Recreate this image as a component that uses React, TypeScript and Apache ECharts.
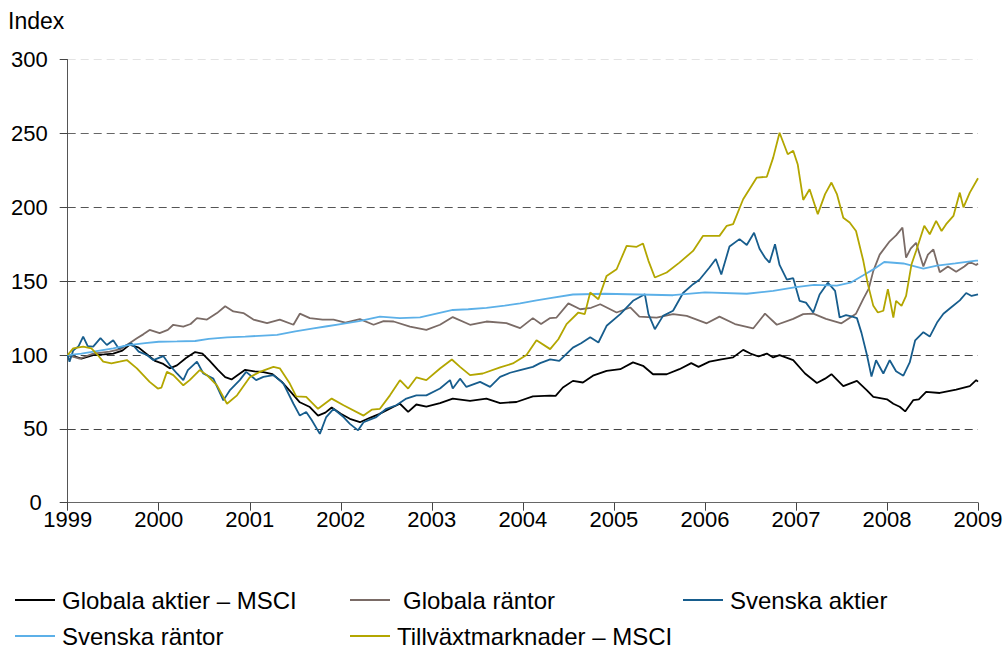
import React, { useEffect, useRef } from "react";
import * as echarts from "echarts";

const yearTicks = [1999, 2000, 2001, 2002, 2003, 2004, 2005, 2006, 2007, 2008, 2009];
const yTicks = [0, 50, 100, 150, 200, 250, 300];

const seriesNames = [
  "Globala aktier – MSCI",
  "Globala räntor",
  "Svenska aktier",
  "Svenska räntor",
  "Tillväxtmarknader – MSCI",
];

const globalaAktier: [number, number][] = [
  [1999.0,100],[1999.08,99],[1999.15,97.5],[1999.28,100],[1999.4,100.5],[1999.5,101],[1999.6,103],[1999.68,107],[1999.78,105],[1999.88,100],[1999.96,96],[2000.05,94],[2000.12,91],[2000.2,93],[2000.3,98],[2000.4,102],[2000.48,101],[2000.56,96],[2000.65,90],[2000.73,85],[2000.8,83.5],[2000.88,87],[2000.95,90],[2001.05,89],[2001.15,88.5],[2001.25,87],[2001.35,82],[2001.45,75],[2001.55,68],[2001.66,64.8],[2001.75,59],[2001.83,61],[2001.9,64.5],[2002.0,60.2],[2002.1,56.8],[2002.21,54.5],[2002.32,57.5],[2002.42,60],[2002.5,62.5],[2002.58,65],[2002.65,67],[2002.74,61.5],[2002.83,66.5],[2002.94,65],[2003.09,67.5],[2003.23,70.5],[2003.42,69],[2003.6,70.5],[2003.75,67.5],[2003.93,68.2],[2004.11,72],[2004.3,72.5],[2004.36,72.3],[2004.44,78],[2004.55,82.5],[2004.66,81.4],[2004.77,86],[2004.92,89.3],[2005.07,90.4],[2005.21,95],[2005.32,92.7],[2005.43,87],[2005.58,87],[2005.72,90.4],[2005.85,94.5],[2005.93,92],[2006.05,95.5],[2006.18,97],[2006.31,98.4],[2006.42,103.5],[2006.5,101],[2006.59,99],[2006.68,101],[2006.75,98.4],[2006.82,100],[2006.97,96.6],[2007.1,87.5],[2007.23,81.1],[2007.32,84],[2007.39,87],[2007.52,79],[2007.67,82.5],[2007.78,76],[2007.85,71.6],[2008.0,70],[2008.07,67],[2008.14,65],[2008.2,61.8],[2008.29,69.5],[2008.35,70],[2008.43,75],[2008.58,74.3],[2008.76,76.6],[2008.91,79],[2008.98,83],[2009.0,82],
];

const globalaRantor: [number, number][] = [
  [1999.0,100],[1999.13,97.5],[1999.28,101],[1999.46,102.3],[1999.58,104],[1999.65,106.8],[1999.76,111.4],[1999.83,114],[1999.9,117],[2000.01,114.8],[2000.1,117],[2000.16,120.5],[2000.27,119.3],[2000.35,121],[2000.42,125],[2000.53,124],[2000.64,128.4],[2000.73,133],[2000.82,129.5],[2000.93,128.4],[2001.04,124],[2001.19,121.6],[2001.33,124],[2001.48,120.5],[2001.55,128],[2001.66,125],[2001.8,124],[2001.92,124],[2002.05,122],[2002.21,124.3],[2002.36,120.5],[2002.47,123],[2002.58,122.7],[2002.76,119.3],[2002.94,117],[2003.09,120.5],[2003.23,125.7],[2003.42,120.5],[2003.6,122.7],[2003.82,121.6],[2003.97,118.2],[2004.11,125],[2004.2,121],[2004.3,125],[2004.37,125.4],[2004.5,135],[2004.63,131],[2004.75,132],[2004.85,134.4],[2005.03,128.8],[2005.18,132.2],[2005.28,126],[2005.47,125.4],[2005.65,127.7],[2005.8,126.5],[2006.02,121.5],[2006.16,126],[2006.33,121],[2006.53,118],[2006.66,128],[2006.79,120.5],[2006.97,124.5],[2007.08,127.7],[2007.19,128],[2007.33,124.5],[2007.5,121.5],[2007.66,128],[2007.74,138],[2007.8,145],[2007.85,157],[2007.92,168],[2008.03,177],[2008.1,181],[2008.17,186.3],[2008.21,166],[2008.26,172],[2008.32,176],[2008.4,160],[2008.45,168],[2008.51,171.5],[2008.58,156],[2008.67,160],[2008.76,156.4],[2008.85,160],[2008.91,163],[2008.98,161],[2009.0,162],
];

const svenskaAktier: [number, number][] = [
  [1999.0,100],[1999.02,95.5],[1999.06,103],[1999.12,106],[1999.17,112.5],[1999.22,106],[1999.28,105.7],[1999.36,111.4],[1999.43,106.8],[1999.5,110],[1999.56,104.5],[1999.65,106.8],[1999.7,108],[1999.78,102.3],[1999.87,100],[1999.94,96.6],[2000.05,99.3],[2000.12,93.2],[2000.2,87.5],[2000.27,83],[2000.32,89.8],[2000.42,95.5],[2000.49,87.5],[2000.6,84],[2000.71,69.3],[2000.78,76],[2000.89,83],[2000.96,88.6],[2001.07,83],[2001.15,85.2],[2001.26,86.4],[2001.37,80.7],[2001.48,67],[2001.55,59],[2001.62,61.4],[2001.68,56],[2001.77,46.6],[2001.84,58],[2001.92,63.6],[2002.03,58],[2002.1,53.4],[2002.19,49],[2002.25,54.5],[2002.39,58],[2002.5,63.6],[2002.61,66],[2002.72,70.5],[2002.83,72.7],[2002.94,72.7],[2003.09,77.3],[2003.2,83],[2003.23,77.3],[2003.31,84],[2003.38,78.4],[2003.53,81.8],[2003.64,78.4],[2003.75,85.2],[2003.86,88],[2003.97,89.8],[2004.11,92],[2004.19,94.5],[2004.3,97],[2004.4,96],[2004.55,105],[2004.64,108],[2004.74,112],[2004.83,108.5],[2004.92,119.8],[2005.07,127.7],[2005.21,136.7],[2005.34,141.2],[2005.38,127.7],[2005.45,117.5],[2005.54,126.5],[2005.65,130],[2005.76,142],[2005.87,148],[2005.94,151],[2006.05,159.3],[2006.12,165],[2006.18,154.5],[2006.27,173.5],[2006.38,178.5],[2006.46,174.5],[2006.54,182.8],[2006.6,172],[2006.66,166],[2006.71,162.6],[2006.77,175],[2006.82,161],[2006.9,151],[2006.97,152],[2007.04,136.7],[2007.11,135.5],[2007.19,128.8],[2007.26,141],[2007.35,149],[2007.43,143.5],[2007.48,125.4],[2007.55,127],[2007.62,126],[2007.67,125],[2007.72,115],[2007.78,100],[2007.83,85.5],[2007.88,96.5],[2007.96,87.5],[2008.03,96.5],[2008.1,89],[2008.18,86],[2008.25,95],[2008.31,110],[2008.4,115.5],[2008.47,112.5],[2008.55,122],[2008.62,128],[2008.7,132],[2008.8,137],[2008.87,142],[2008.93,140],[2009.0,141],
];

const svenskaRantor: [number, number][] = [
  [1999.0,100],[1999.15,101],[1999.3,102.5],[1999.5,104.5],[1999.65,106.5],[1999.85,108],[2000.0,109],[2000.2,109.2],[2000.4,109.5],[2000.55,111],[2000.75,112],[2000.95,112.5],[2001.1,113],[2001.3,113.6],[2001.5,116],[2001.7,118],[2001.85,119.5],[2002.0,121],[2002.2,123],[2002.43,126],[2002.65,125],[2002.87,125.5],[2003.05,128],[2003.23,130.5],[2003.4,131],[2003.6,132],[2003.8,133.5],[2003.97,135],[2004.15,137],[2004.3,138.5],[2004.55,141],[2004.9,141.5],[2005.28,141],[2005.65,140.5],[2006.0,142.5],[2006.46,141.5],[2006.75,143.5],[2007.0,146],[2007.2,147.5],[2007.45,147],[2007.6,149],[2007.74,154],[2007.85,158],[2007.97,163],[2008.18,162],[2008.4,158.5],[2008.55,160.5],[2008.75,162],[2008.98,164],[2009.0,164],
];

const tillvaxt: [number, number][] = [
  [1999.0,100],[1999.06,104.5],[1999.17,105.7],[1999.26,104.5],[1999.33,100],[1999.39,95.5],[1999.48,94.3],[1999.57,95.5],[1999.65,96.6],[1999.76,91],[1999.9,81.8],[1999.99,77.3],[2000.03,78],[2000.09,88.6],[2000.16,86.4],[2000.27,79.5],[2000.34,83],[2000.45,89.8],[2000.53,86.4],[2000.64,79.5],[2000.75,67],[2000.86,72.7],[2001.0,85],[2001.11,88.6],[2001.26,92],[2001.33,91],[2001.44,80.7],[2001.51,72],[2001.62,71.6],[2001.75,63.6],[2001.9,70.5],[2002.03,66],[2002.25,59],[2002.34,63],[2002.43,63.6],[2002.54,72.7],[2002.65,83],[2002.74,77.3],[2002.83,84.8],[2002.94,83],[2003.09,90.9],[2003.22,97],[2003.31,92],[2003.42,86.4],[2003.56,87.5],[2003.75,91.6],[2003.89,94.3],[2004.04,100],[2004.15,110],[2004.3,104],[2004.39,110.7],[2004.48,120.9],[2004.61,128.8],[2004.68,127.7],[2004.74,142.3],[2004.83,137.8],[2004.92,153.6],[2005.03,158.1],[2005.14,173.9],[2005.25,173.3],[2005.32,175.5],[2005.38,163.8],[2005.45,152.5],[2005.58,155.9],[2005.72,162.6],[2005.87,170.5],[2005.98,180.7],[2006.16,180.7],[2006.24,187.5],[2006.31,188.6],[2006.42,205.5],[2006.57,220.2],[2006.68,220.7],[2006.75,233.7],[2006.82,250.5],[2006.91,236],[2006.97,238.3],[2007.02,229],[2007.08,205],[2007.15,212.3],[2007.24,195.4],[2007.32,209],[2007.39,216.8],[2007.45,209],[2007.52,193],[2007.59,189.7],[2007.66,184],[2007.74,163.8],[2007.79,148],[2007.85,133.3],[2007.9,128.8],[2007.96,130],[2008.01,144.6],[2008.07,125.4],[2008.1,136.7],[2008.16,133.3],[2008.21,140],[2008.27,161.5],[2008.32,170.5],[2008.41,187.5],[2008.47,181.8],[2008.54,190.9],[2008.6,184],[2008.65,188.6],[2008.73,194.2],[2008.8,210],[2008.84,200],[2008.91,210],[2009.0,219.7],
];

const seriesData = [globalaAktier, globalaRantor, svenskaAktier, svenskaRantor, tillvaxt];
const seriesColors = ["#000000", "#7a6b66", "#175d8d", "#5cb0e8", "#b3a600"];

const FONT = "'Liberation Sans', Arial, sans-serif";
const FS = 22;
const LEGEND_FS = 24;

export default function App() {
  const ref = useRef<HTMLDivElement>(null);
  useEffect(() => {
    if (!ref.current) return;
    const chart = echarts.init(ref.current, undefined, { renderer: "svg" });
    const legendPos = [
      { left: 15, top: 588 },
      { left: 350, top: 588 },
      { left: 683, top: 588 },
      { left: 15, top: 624 },
      { left: 350, top: 624 },
    ];
    chart.setOption({
      animation: false,
      backgroundColor: "#ffffff",
      textStyle: { fontFamily: FONT },
      grid: { left: 67.7, right: 28, top: 59.7, bottom: 147.3, containLabel: false },
      graphic: [
        {
          type: "text",
          left: 8,
          top: 9,
          style: { text: "Index", fontSize: 23, fontFamily: FONT, fill: "#000" },
        },
      ],
      legend: seriesNames.map((n, i) => ({
        data: [n],
        left: legendPos[i].left,
        top: legendPos[i].top,
        padding: 0,
        icon: "rect",
        itemWidth: 40,
        itemHeight: 2,
        itemGap: 0,
        selectedMode: false,
        textStyle: {
          fontSize: LEGEND_FS,
          fontFamily: FONT,
          color: "#000",
          padding: [0, 0, 0, i === 1 ? 8 : 2],
        },
      })),
      xAxis: {
        type: "value",
        min: yearTicks[0],
        max: yearTicks[yearTicks.length - 1],
        interval: 1,
        axisLine: { show: true, lineStyle: { color: "#666", width: 1 } },
        axisTick: { show: true, length: 8, lineStyle: { color: "#444" } },
        axisLabel: {
          fontSize: FS,
          fontFamily: FONT,
          color: "#000",
          margin: 9,
          lineHeight: 16,
          formatter: (v: number) => String(Math.round(v)),
        },
        splitLine: { show: false },
      },
      yAxis: {
        type: "value",
        min: yTicks[0],
        max: yTicks[yTicks.length - 1],
        interval: 50,
        axisLine: { show: true, lineStyle: { color: "#555", width: 1 } },
        axisTick: { show: true, length: 8, lineStyle: { color: "#444" } },
        axisLabel: {
          fontSize: FS,
          fontFamily: FONT,
          color: "#000",
          margin: 20,
          lineHeight: 16,
          formatter: (v: number) => (v === 0 ? "{z|0}" : String(v)),
          rich: {
            z: { fontSize: FS, fontFamily: FONT, color: "#000", padding: [0, 6, 0, 0], lineHeight: 16 },
          },
        },
        splitLine: {
          show: true,
          lineStyle: {
            type: [8, 5],
            width: 1,
            color: ["#444", "#444", "#444", "#444", "#555", "#666", "#e3e3e3"],
          },
        },
      },
      series: seriesNames.map((n, i) => ({
        name: n,
        type: "line",
        data: seriesData[i],
        showSymbol: false,
        symbol: "none",
        lineStyle: { color: seriesColors[i], width: 1.8 },
        itemStyle: { color: seriesColors[i] },
        z: 2 + i,
      })),
    });
    return () => chart.dispose();
  }, []);
  return (
    <div
      ref={ref}
      style={{ position: "absolute", left: 0, top: 0, width: 1006, height: 650 }}
    />
  );
}
